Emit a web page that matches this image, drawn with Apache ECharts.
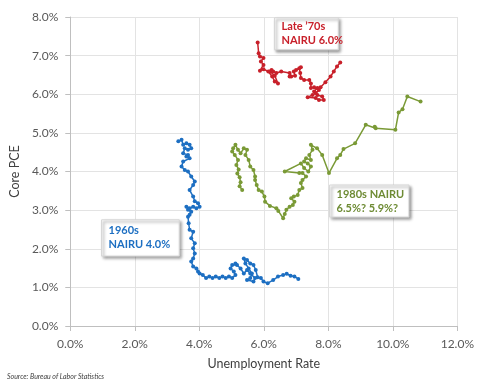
<!DOCTYPE html>
<html>
<head>
<meta charset="utf-8">
<script src="https://cdn.jsdelivr.net/npm/echarts@6/dist/echarts.min.js"></script>
<style>
  html, body { margin: 0; padding: 0; background: #ffffff; }
  #chart { width: 477px; height: 379px; }
</style>
</head>
<body>
<div id="chart"></div>
<script>
// Unemployment rate (%) and core PCE inflation (%) paths, in time order
const sixtiesUnemp = [7.07,6.95,6.83,6.71,6.60,6.44,6.29,6.12,5.99,5.91,5.81,5.75,5.68,5.58,5.48,5.38,5.43,5.53,5.63,5.58,5.48,5.68,5.73,5.58,5.48,5.38,5.28,5.17,5.12,5.02,4.97,5.07,5.12,5.02,4.92,4.82,4.72,4.62,4.51,4.41,4.31,4.21,4.11,4.01,3.96,3.91,3.81,3.75,3.81,3.86,3.81,3.86,3.75,3.81,3.70,3.67,3.65,3.70,3.75,3.65,3.60,3.70,3.81,3.91,4.01,3.96,3.86,3.81,3.70,3.81,3.86,3.75,3.65,3.55,3.45,3.50,3.70,3.65,3.60,3.50,3.55,3.65,3.75,3.70,3.60,3.50,3.45,3.35];
const sixtiesPce   = [1.22,1.28,1.30,1.35,1.32,1.28,1.19,1.11,1.15,1.24,1.26,1.45,1.58,1.62,1.71,1.75,1.62,1.49,1.36,1.24,1.19,1.15,1.24,1.36,1.45,1.36,1.49,1.58,1.62,1.58,1.49,1.41,1.32,1.24,1.28,1.24,1.28,1.24,1.28,1.24,1.28,1.24,1.32,1.36,1.41,1.49,1.54,1.67,1.75,1.88,2.01,2.14,2.27,2.44,2.49,2.66,2.83,2.88,2.96,3.01,3.09,3.05,3.09,3.05,3.09,3.18,3.23,3.35,3.52,3.65,3.74,3.87,4.00,4.04,4.13,4.26,4.34,4.43,4.39,4.47,4.60,4.56,4.60,4.69,4.73,4.69,4.82,4.78];

const seventiesUnemp = [8.37,8.27,8.17,8.07,7.91,7.76,7.66,7.56,7.66,7.81,7.86,7.71,7.61,7.36,7.51,7.61,7.71,7.56,7.46,7.46,7.41,7.25,7.15,7.13,7.10,7.15,7.00,6.93,6.97,6.85,6.80,6.80,6.54,6.39,6.29,6.24,6.19,6.34,6.44,6.34,6.26,6.14,5.99,5.88,5.99,5.91,5.99,5.88,5.84,5.81];
const seventiesPce   = [6.82,6.72,6.59,6.46,6.31,6.18,6.16,6.07,5.98,5.94,5.85,5.85,5.90,5.92,5.98,6.03,6.11,6.18,6.16,6.28,6.37,6.37,6.42,6.55,6.67,6.70,6.63,6.59,6.48,6.46,6.46,6.55,6.59,6.55,6.59,6.63,6.59,6.48,6.28,6.33,6.46,6.59,6.65,6.61,6.76,6.85,6.94,6.98,7.06,7.34];

const eightiesUnemp = [10.86,10.45,10.30,10.18,10.08,9.47,9.44,9.16,8.83,8.47,8.37,8.27,8.02,7.81,7.65,7.46,7.51,7.41,7.46,7.31,7.25,7.36,7.46,7.38,7.25,7.15,6.65,7.10,7.20,7.31,7.20,7.15,7.20,7.10,7.05,6.93,6.85,6.95,6.90,6.80,6.70,6.65,6.60,6.45,6.39,6.19,6.04,6.02,5.94,5.84,5.78,5.73,5.73,5.68,5.58,5.53,5.43,5.48,5.38,5.28,5.20,5.12,5.05,5.02,5.10,5.20,5.15,5.22,5.18,5.25,5.28,5.25,5.33];
const eightiesPce   = [5.81,5.94,5.61,5.53,5.08,5.12,5.16,5.21,4.73,4.58,4.43,4.34,3.96,4.43,4.60,4.69,4.56,4.43,4.30,4.34,4.26,4.21,4.13,4.00,4.09,4.21,4.00,3.96,3.96,3.87,3.78,3.70,3.57,3.52,3.39,3.35,3.31,3.22,3.13,3.09,3.01,2.90,2.79,2.98,3.05,3.11,3.22,3.35,3.48,3.52,3.65,3.78,3.87,4.04,4.13,4.30,4.43,4.56,4.60,4.47,4.56,4.69,4.60,4.52,4.43,4.30,4.17,4.05,3.95,3.85,3.72,3.62,3.52];

// Axis ranges (percent)
const xTicks = { min: 0, max: 12, step: 2 };
const yTicks = { min: 0, max: 8, step: 1 };

// Callout text and the data-space box each one sits in: [x0, yTop, x1, yBottom]
const callouts = [
  { lines: ["Late \u201970s", "NAIRU 6.0%"], color: "#c8202a", box: [6.33, 7.98, 8.31, 7.15] },
  { lines: ["1960s", "NAIRU 4.0%"], color: "#1d6fc2", box: [0.97, 2.75, 3.38, 1.81] },
  { lines: ["1980s NAIRU", "6.5%? 5.9%?"], color: "#6e8b34", box: [8.04, 3.65, 10.50, 2.82] }
];

const FONT = "Lato, 'Liberation Sans', sans-serif";

function zip(xs, ys) { return xs.map((x, i) => [x, ys[i]]); }

function pathSeries(name, xs, ys, color) {
  return {
    name: name,
    type: "line",
    data: zip(xs, ys),
    showSymbol: true,
    symbol: "circle",
    symbolSize: 4,
    smooth: false,
    animation: false,
    lineStyle: { color: color, width: 1.5 },
    itemStyle: { color: color },
    emphasis: { disabled: true }
  };
}

const chart = echarts.init(document.getElementById("chart"), null, { renderer: "canvas" });

const pctFmt = v => v.toFixed(1) + "%";

chart.setOption({
  animation: false,
  backgroundColor: "#ffffff",
  grid: { left: 65, right: 18, top: 17, bottom: 53, containLabel: false },
  xAxis: {
    type: "value",
    min: xTicks.min, max: xTicks.max, interval: xTicks.step,
    name: "Unemployment Rate",
    nameLocation: "middle",
    nameGap: 31,
    nameTextStyle: { color: "#404040", fontSize: 12.5, fontFamily: FONT },
    axisLine: { show: true, onZero: false, lineStyle: { color: "#bfbfbf", width: 1 } },
    axisTick: { show: true, length: 5, lineStyle: { color: "#bfbfbf" } },
    axisLabel: { color: "#595959", fontSize: 12, fontFamily: FONT, margin: 12, formatter: pctFmt },
    splitLine: { show: true, lineStyle: { color: "#e3e3e3", width: 1 } }
  },
  yAxis: {
    type: "value",
    min: yTicks.min, max: yTicks.max, interval: yTicks.step,
    name: "Core PCE",
    nameLocation: "middle",
    nameGap: 48,
    nameTextStyle: { color: "#404040", fontSize: 12.5, fontFamily: FONT },
    axisLine: { show: true, onZero: false, lineStyle: { color: "#bfbfbf", width: 1 } },
    axisTick: { show: true, length: 5, lineStyle: { color: "#bfbfbf" } },
    axisLabel: { color: "#595959", fontSize: 12, fontFamily: FONT, margin: 12, formatter: pctFmt },
    splitLine: { show: true, lineStyle: { color: "#e3e3e3", width: 1 } }
  },
  series: [
    pathSeries("1960s", sixtiesUnemp, sixtiesPce, "#1d6fc2"),
    pathSeries("Late '70s", seventiesUnemp, seventiesPce, "#c8202a"),
    pathSeries("1980s", eightiesUnemp, eightiesPce, "#7a9a36")
  ]
});

// Callout boxes and the source note, placed from data coordinates
function drawAnnotations() {
  const elements = callouts.map(c => {
    const p0 = chart.convertToPixel({ gridIndex: 0 }, [c.box[0], c.box[1]]);
    const p1 = chart.convertToPixel({ gridIndex: 0 }, [c.box[2], c.box[3]]);
    const w = p1[0] - p0[0], h = p1[1] - p0[1];
    return {
      type: "group",
      x: p0[0], y: p0[1],
      z: 100,
      children: [
        {
          type: "rect",
          shape: { x: 0, y: 0, width: w, height: h },
          style: {
            fill: "#ffffff",
            stroke: "#d6d6d6",
            lineWidth: 1,
            shadowBlur: 3,
            shadowOffsetX: 2,
            shadowOffsetY: 2,
            shadowColor: "rgba(0,0,0,0.45)"
          }
        },
        {
          type: "text",
          x: 7, y: h / 2,
          style: {
            text: c.lines.join("\n"),
            fill: c.color,
            font: "bold 11px " + FONT,
            lineHeight: 14,
            verticalAlign: "middle",
            align: "left"
          }
        }
      ]
    };
  });
  elements.push({
    type: "text",
    left: 7, bottom: -1,
    style: {
      text: "Source: Bureau of Labor Statistics",
      fill: "#404040",
      font: "italic 7px " + FONT
    }
  });
  chart.setOption({ graphic: { elements: elements } });
}
drawAnnotations();
</script>
</body>
</html>
